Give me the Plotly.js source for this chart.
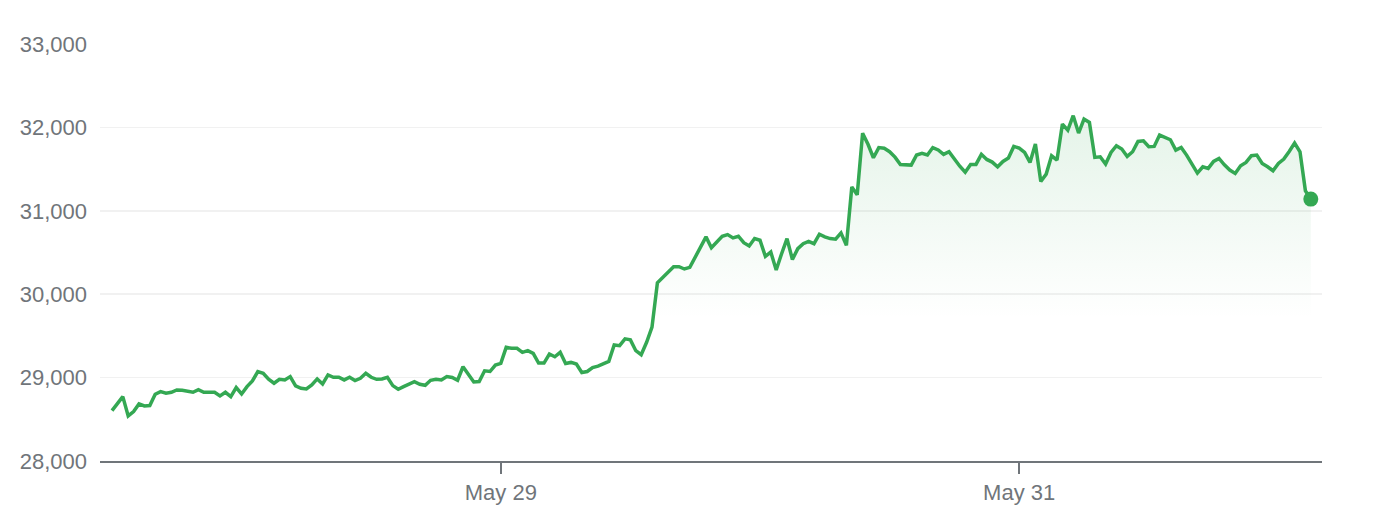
<!DOCTYPE html>
<html><head><meta charset="utf-8">
<script src="https://cdn.plot.ly/plotly-3.0.1.min.js"></script>
<style>html,body{margin:0;padding:0;background:#fff;}#chart{width:1374px;height:518px;}</style>
</head><body><div id="chart"></div>
<script>
// Sampling grid: one price every 30 minutes starting at this time
const seriesStart = '2023-05-27 12:00';
const stepMinutes = 30;

// Prices
const prices = [
  28604, 28690, 28772, 28540, 28592, 28684, 28660, 28664, 28800, 28832, 28812,
  28824, 28852, 28848, 28840, 28824, 28856, 28824, 28824, 28824, 28780,
  28824, 28772, 28880, 28804, 28892, 28960, 29072, 29052, 28980, 28932,
  28980, 28972, 29012, 28900, 28872, 28864, 28912, 28984, 28924, 29032,
  29004, 29004, 28972, 29004, 28964, 28992, 29052, 29004, 28980, 28984,
  29004, 28904, 28860, 28892, 28925,
  28952, 28920, 28908, 28968, 28980, 28972, 29013, 29001, 28968, 29130,
  29041, 28948, 28952, 29081, 29073, 29150, 29170, 29363, 29351, 29351,
  29303, 29323, 29291, 29174, 29174, 29283, 29250, 29303, 29170, 29182,
  29162, 29061, 29073, 29121, 29138, 29170, 29194, 29391, 29383, 29464,
  29452, 29323, 29275, 29424, 29605, 30137, 30202, 30258, 30330, 30330,
  30302, 30322, 30443, 30552,
  30687, 30558, 30626, 30695, 30715, 30675, 30695, 30618, 30578, 30667,
  30647, 30453, 30505, 30291, 30485, 30667, 30416, 30546, 30606, 30634,
  30606, 30719, 30687, 30667, 30659, 30735, 30586, 31285, 31192, 31931,
  31798, 31636, 31758, 31750, 31709, 31644, 31556, 31548, 31548, 31669,
  31689, 31669, 31758, 31729, 31677, 31709, 31616, 31535, 31463, 31556,
  31556, 31677, 31616, 31584, 31527,
  31592, 31632, 31772, 31752, 31700, 31580, 31800, 31352, 31440, 31660,
  31608, 32040, 31968, 32140, 31932, 32100, 32060, 31640, 31648, 31560,
  31700, 31780, 31740, 31652, 31708, 31832, 31840, 31768, 31772, 31908,
  31880, 31852, 31728, 31760, 31668, 31560, 31452, 31528, 31508, 31592,
  31628, 31552, 31488, 31448, 31540, 31580, 31660, 31668, 31568, 31528,
  31480, 31568, 31620, 31712, 31812, 31708, 31240, 31140
];

const xTickDates = ['2023-05-29', '2023-05-31'];
const xTickLabels = ['May 29', 'May 31'];
const yTickValues = [28000, 29000, 30000, 31000, 32000, 33000];
const yTickLabels = ['28,000', '29,000', '30,000', '31,000', '32,000', '33,000'];

function pad(n){ return (n < 10 ? '0' : '') + n; }
function fmt(d){
  return d.getUTCFullYear() + '-' + pad(d.getUTCMonth()+1) + '-' + pad(d.getUTCDate()) + ' ' +
         pad(d.getUTCHours()) + ':' + pad(d.getUTCMinutes());
}
const [dPart, tPart] = seriesStart.split(' ');
const [yy, mm, dd] = dPart.split('-').map(Number);
const [hh, mi] = tPart.split(':').map(Number);
const t0 = Date.UTC(yy, mm-1, dd, hh, mi);
const times = prices.map((_, i) => fmt(new Date(t0 + i*stepMinutes*60000)));

const GREEN = '#34a853';
const GREY = '#70757a';

const traces = [
  {
    x: times, y: prices, type: 'scatter', mode: 'lines',
    line: {color: GREEN, width: 3.5},
    fill: 'tozeroy',
    fillgradient: {
      type: 'vertical', start: 29700, stop: 32150,
      colorscale: [[0, 'rgba(52,168,83,0)'], [1, 'rgba(52,168,83,0.13)']]
    },
    hoverinfo: 'skip'
  },
  {
    x: [times[times.length-1]], y: [prices[prices.length-1]],
    type: 'scatter', mode: 'markers',
    marker: {color: GREEN, size: 15},
    hoverinfo: 'skip'
  }
];

const layout = {
  width: 1374, height: 518,
  margin: {l: 100, r: 52, t: 44, b: 57},
  paper_bgcolor: '#ffffff', plot_bgcolor: '#ffffff',
  showlegend: false,
  font: {family: '"Liberation Sans", Arial, sans-serif', size: 22, color: GREY},
  xaxis: {
    type: 'date',
    range: ['2023-05-27 10:53:20', '2023-06-01 04:02:13'],
    tickmode: 'array', tickvals: xTickDates, ticktext: xTickLabels,
    showgrid: false, zeroline: false,
    showline: true, linecolor: GREY, linewidth: 2,
    ticks: 'outside', ticklen: 11, tickwidth: 2, tickcolor: GREY,
    tickfont: {size: 22, color: GREY},
    fixedrange: true
  },
  yaxis: {
    range: [28000, 33000],
    tickmode: 'array', tickvals: yTickValues, ticktext: yTickLabels,
    showgrid: true, gridcolor: '#f1f1f1', gridwidth: 1.5,
    zeroline: false, showline: false, ticks: '',
    ticklabelstandoff: 12,
    tickfont: {size: 22, color: GREY},
    fixedrange: true
  }
};

Plotly.newPlot('chart', traces, layout, {displayModeBar: false, staticPlot: true});
</script>
</body></html>
